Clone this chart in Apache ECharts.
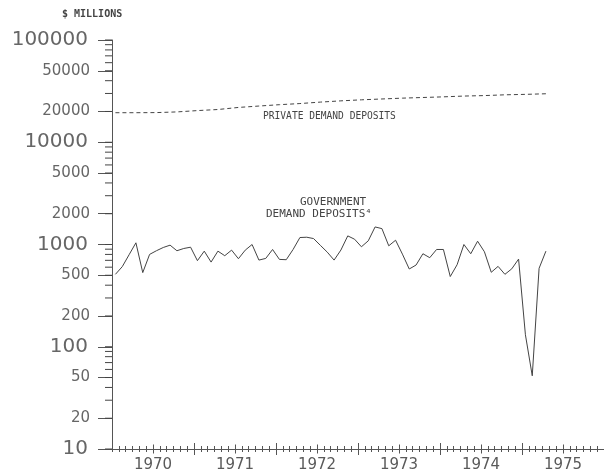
<!DOCTYPE html>
<html><head><meta charset="utf-8">
<script src="https://cdn.jsdelivr.net/npm/echarts@6/dist/echarts.min.js"></script>
<style>html,body{margin:0;padding:0;background:#fff}#c{width:604px;height:473px}</style>
</head><body><div id="c"></div>
<script>
// ---- data ----
const yearLabels = ['1970', '1971', '1972', '1973', '1974', '1975'];
const yLabelValues = [10, 20, 50, 100, 200, 500, 1000, 2000, 5000, 10000, 20000, 50000, 100000];
// Government demand deposits, monthly, Jan 1970 - Apr 1975 ($ millions)
const governmentDeposits = [
  511, 607, 794, 1039, 531, 800, 869, 935, 985, 869, 914, 941,
  695, 861, 673, 861, 777, 881, 726, 881, 1000, 704, 731, 894,
  715, 710, 894, 1170, 1178, 1143, 980, 842, 704, 883, 1214, 1126,
  950, 1086, 1485, 1430, 971, 1101, 805, 576, 630, 812, 743, 894,
  894, 486, 634, 1000, 812, 1077, 849, 535, 611, 511, 578, 720,
  131, 52, 585, 861
];
// Private demand deposits, quarterly readings (Jan 1970, Apr 1970, ...), $ millions
const privateDeposits = [
  19450, 19450, 19500, 19800, 20400, 20900, 21900, 22600, 23300, 23900, 24700,
  25400, 26000, 26500, 27000, 27400, 27800, 28300, 28600, 29100, 29400, 29800
];

// ---- helpers ----
const GRID = 0;
const axisColor = '#555';
const yMinorTickValues = [];
for (let e = 1; e <= 4; e++) for (let k = 1; k <= 9; k++) yMinorTickValues.push(k * Math.pow(10, e));
yMinorTickValues.push(100000);
const yLabelLog = yLabelValues.map(v => Math.log10(v));
const midYears = yearLabels.map((y, i) => 6 + 12 * i);
const yearBounds = [12, 24, 36, 48, 60];

function xAxisBase(extra) {
  return Object.assign({
    type: 'value', gridIndex: GRID, position: 'bottom', min: 0, max: 72,
    axisLine: { show: false }, axisLabel: { show: false }, splitLine: { show: false },
    axisTick: { show: false }
  }, extra);
}
function tick(len, inside, custom) {
  const t = { show: true, length: len, inside: inside, lineStyle: { color: axisColor, width: 1 } };
  if (custom) t.customValues = custom;
  return t;
}

const chart = echarts.init(document.getElementById('c'), null, { renderer: 'canvas' });
chart.setOption({
  animation: false,
  backgroundColor: '#fff',
  grid: { left: 112, top: 40, right: -2, bottom: 21.6, containLabel: false },
  xAxis: [
    xAxisBase({
      interval: 1,
      axisLine: { show: true, lineStyle: { color: axisColor, width: 1 } },
      axisTick: { show: true, length: 3, inside: false, lineStyle: { color: axisColor } },
      axisLabel: {
        show: true, customValues: midYears, margin: 9,
        formatter: v => yearLabels[Math.round((v - 6) / 12)],
        fontFamily: 'DejaVu Sans', fontSize: 15, color: '#5a5a5a'
      }
    }),
    xAxisBase({ interval: 1, axisTick: { show: true, length: 3, inside: true, lineStyle: { color: axisColor } } }),
    xAxisBase({ axisTick: tick(4.5, false, midYears) }),
    xAxisBase({ axisTick: tick(4.5, true, midYears) }),
    xAxisBase({ axisTick: tick(6, false, yearBounds) }),
    xAxisBase({ axisTick: tick(6, true, yearBounds) })
  ],
  yAxis: [
    {
      type: 'log', logBase: 10, min: 10, max: 100000, gridIndex: GRID, position: 'left',
      axisLine: { show: true, lineStyle: { color: axisColor, width: 1 } },
      axisTick: { show: false }, axisLabel: { show: false }, splitLine: { show: false }
    },
    {
      type: 'value', min: 1, max: 5, gridIndex: GRID, position: 'left',
      axisLine: { show: false }, splitLine: { show: false },
      axisTick: tick(14, false, yLabelLog),
      axisLabel: {
        show: true, customValues: yLabelLog, margin: 22,
        formatter: v => {
          const n = Math.round(Math.pow(10, v));
          return /^10*$/.test(String(n)) ? '{b|' + n + '}' : '{s|' + n + '}';
        },
        rich: {
          b: { fontFamily: 'DejaVu Sans', fontSize: 20, color: '#666', padding: [0, 2, 0, 0] },
          s: { fontFamily: 'DejaVu Sans', fontSize: 15, color: '#666' }
        }
      }
    }
  ],
  series: [
    {
      name: 'minor ticks', type: 'custom', xAxisIndex: 0, yAxisIndex: 0, clip: false, silent: true, z: 5,
      data: yMinorTickValues.map(v => [0, v]),
      renderItem: (params, api) => {
        const p = api.coord([0, api.value(1)]);
        return { type: 'line', shape: { x1: p[0] - 7, y1: p[1], x2: p[0], y2: p[1] }, style: { stroke: '#444', lineWidth: 1 } };
      }
    },
    {
      name: 'PRIVATE DEMAND DEPOSITS', type: 'line', xAxisIndex: 0, yAxisIndex: 0,
      data: privateDeposits.map((v, i) => [i * 3 + 0.5, v]),
      symbol: 'none', smooth: false,
      lineStyle: { color: '#444', width: 1, type: [4, 3] }
    },
    {
      name: 'GOVERNMENT DEMAND DEPOSITS', type: 'line', xAxisIndex: 0, yAxisIndex: 0,
      data: governmentDeposits.map((v, i) => [i + 0.5, v]),
      symbol: 'none', smooth: false,
      lineStyle: { color: '#444', width: 1 }
    }
  ],
  graphic: [
    { type: 'text', left: 62, top: 9, style: { text: '$ MILLIONS', font: 'bold 10px "DejaVu Sans Mono"', fill: '#444' } },
    { type: 'text', left: 263, top: 111, style: { text: 'PRIVATE DEMAND DEPOSITS', font: '9.6px "DejaVu Sans Mono"', fill: '#444' } },
    { type: 'text', left: 300, top: 197, style: { text: 'GOVERNMENT', font: '11px "DejaVu Sans Mono"', fill: '#444' } },
    { type: 'text', left: 266, top: 209, style: { text: 'DEMAND DEPOSITS\u2074', font: '11px "DejaVu Sans Mono"', fill: '#444' } }
  ]
});
</script></body></html>
